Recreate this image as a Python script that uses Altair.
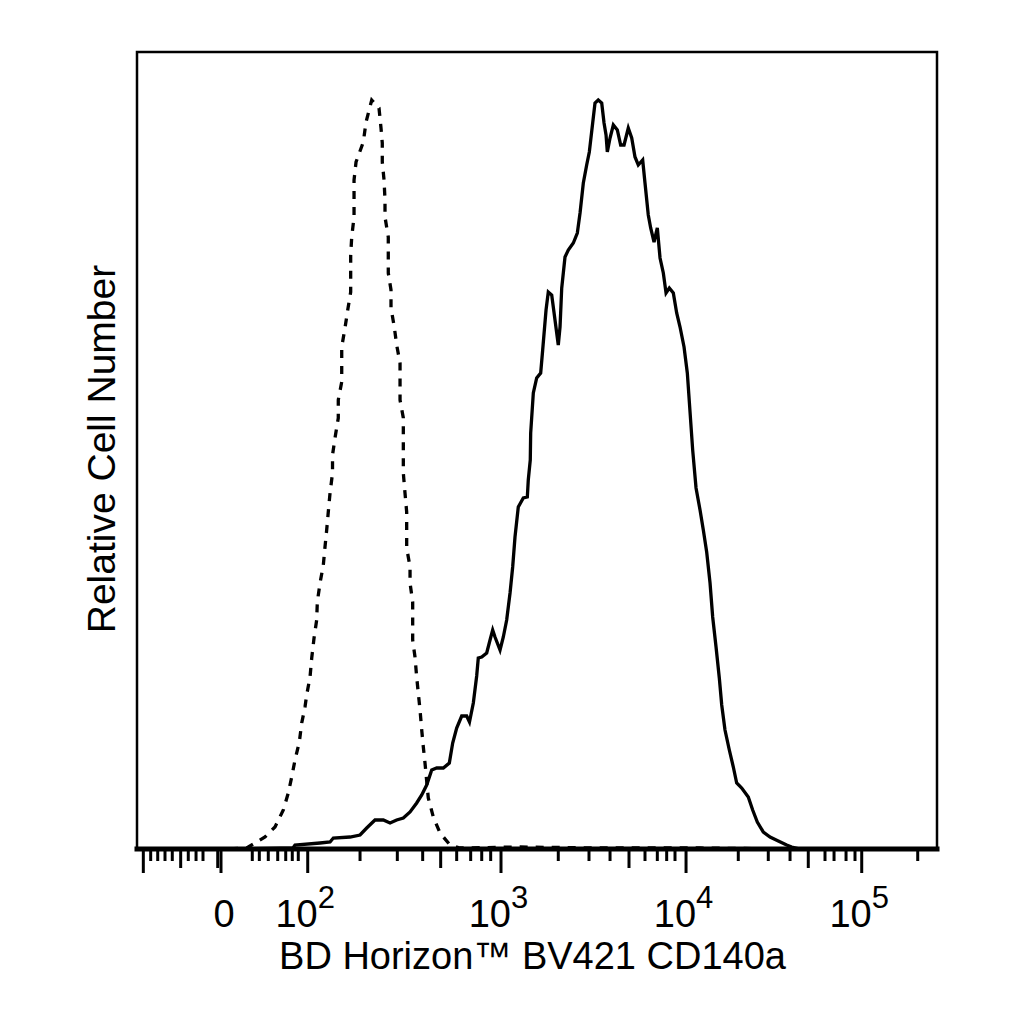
"""Flow cytometry overlay: BV421 CD140a vs isotype control."""
import altair as alt
import pandas as pd

# isotype control (dashed), x in display channels 0-1000, y in cell counts
iso_ch = [116.3, 137.1, 147.5, 160.0, 172.5, 182.9, 189.1, 193.4, 197.5, 202.9,
          205.9, 210.0, 212.1, 216.3, 218.4, 221.3, 224.6, 225.4, 228.8, 232.9,
          235.0, 237.1, 239.1, 241.3, 244.4, 244.4, 247.5, 251.6, 251.6, 255.9,
          255.9, 255.9, 260.0, 263.4, 267.1, 267.1, 267.1, 268.4, 271.3, 271.3,
          271.3, 273.8, 282.9, 286.3, 293.4, 302.5, 305.0, 306.6, 306.6, 308.8,
          310.0, 310.0, 314.1, 314.1, 314.1, 317.5, 317.5, 321.6, 324.6, 328.8,
          328.8, 328.8, 332.9, 332.9, 332.9, 332.9, 335.0, 337.1, 337.1, 337.1,
          341.3, 341.3, 344.6, 344.6, 344.6, 347.5, 349.6, 351.6, 353.8, 355.9,
          357.9, 360.0, 364.1, 370.4, 378.8, 391.3, 403.8, 478.8, 578.8, 703.8,
          816.3]
iso_n = [0, 1, 6, 12, 22, 39, 56, 72, 89, 107,
         126, 142, 154, 172, 191, 211, 229, 247, 266, 284,
         302, 319, 337, 356, 376, 394, 411, 431, 449, 467,
         486, 502, 521, 539, 557, 576, 594, 612, 632, 649,
         669, 687, 707, 727, 749, 741, 721, 706, 687, 669,
         649, 632, 612, 594, 576, 559, 541, 522, 504, 486,
         467, 449, 431, 411, 392, 376, 356, 337, 319, 301,
         282, 266, 247, 229, 209, 192, 172, 156, 139, 119,
         102, 86, 51, 32, 16, 4, 1, 2, 1, 1,
         0]

# BV421 CD140a stained (solid)
cd_ch = [128.8, 195.0, 197.5, 228.8, 241.3, 245.4, 266.3, 278.8, 287.1, 297.5,
         307.9, 316.3, 324.6, 332.9, 341.3, 349.6, 355.9, 362.1, 368.4, 374.6,
         382.9, 390.4, 394.6, 399.6, 405.9, 412.1, 415.6, 420.4, 424.6, 426.6,
         430.9, 437.1, 441.3, 444.6, 447.5, 453.8, 457.9, 462.1, 466.3, 469.6,
         472.5, 476.6, 482.9, 487.9, 489.1, 491.6, 492.1, 495.4, 499.6, 504.6,
         507.1, 511.3, 514.1, 518.4, 522.5, 526.6, 528.8, 530.9, 535.0, 539.1,
         545.4, 550.4, 553.8, 557.9, 562.1, 565.4, 569.6, 572.5, 576.6, 580.9,
         583.8, 586.3, 587.9, 591.3, 595.4, 600.4, 604.6, 608.8, 614.1, 618.4,
         622.5, 626.6, 632.1, 635.0, 639.1, 642.1, 646.3, 650.4, 653.8, 657.9,
         661.3, 665.4, 670.4, 674.6, 678.8, 683.8, 687.9, 691.3, 694.6, 698.8,
         703.8, 707.9, 712.1, 716.3, 719.6, 723.8, 727.9, 730.9, 735.0, 740.4,
         745.4, 749.6, 755.9, 764.1, 769.6, 775.4, 782.9, 791.3, 801.6, 812.1,
         818.4, 828.8]
cd_n = [0, 1, 4, 6, 7, 11, 12, 14, 21, 29,
        29, 26, 29, 31, 37, 46, 54, 64, 79, 81,
        81, 86, 106, 121, 133, 133, 127, 146, 173, 191,
        192, 196, 209, 219, 212, 199, 212, 229, 256, 282,
        312, 342, 351, 352, 369, 389, 416, 456, 471, 476,
        499, 539, 557, 554, 529, 504, 522, 561, 592, 599,
        606, 616, 636, 666, 684, 697, 726, 746, 749, 746,
        726, 714, 697, 711, 724, 719, 704, 704, 721, 711,
        692, 684, 689, 666, 634, 621, 607, 621, 591, 576,
        556, 561, 556, 536, 522, 502, 476, 437, 399, 361,
        339, 319, 297, 266, 232, 202, 171, 144, 119, 99,
        82, 66, 61, 52, 39, 27, 17, 12, 8, 4,
        2, 0]

# biexponential axis ticks, in display channels
major_ticks = [7.9, 105.0, 213.4, 455.0, 686.3, 905.9]
medium_ticks = [54.6, 100.9, 379.6, 615.0, 839.1]
minor_ticks = [17.1, 25.9, 35.0, 44.1, 64.1, 73.8, 82.5, 144.1, 152.9, 164.1,
               175.9, 185.9, 194.1, 201.6, 278.8, 325.4, 357.1, 399.6, 417.1,
               430.9, 442.1, 526.6, 565.0, 591.3, 635.0, 650.4, 662.1, 672.5,
               751.6, 789.1, 816.3, 860.0, 871.3, 886.3, 897.5, 975.9]
decade_pos = [213.4, 455.0, 686.3, 905.9]
decade_exp = ["2", "3", "4", "5"]
zero_pos = [105.0]

H = 797
FONT = "Liberation Sans"

x_scale = alt.Scale(domain=[0, 1000], nice=False, zero=False)
y_scale = alt.Scale(domain=[0, H], nice=False, zero=True)

iso = pd.DataFrame({"ch": iso_ch, "n": iso_n, "i": range(len(iso_ch))})
cd = pd.DataFrame({"ch": cd_ch, "n": cd_n, "i": range(len(cd_ch))})

x_axis = alt.Axis(
    labels=False, ticks=False, grid=False, domain=False,
    title="BD Horizon™ BV421 CD140a", titleFont=FONT, titleFontSize=38,
    titleFontWeight="normal", titleColor="black",
    titleY=119, titleX=395, titleBaseline="alphabetic",
)
y_axis = alt.Axis(
    labels=False, ticks=False, grid=False, domain=False,
    title="Relative Cell Number", titleFont=FONT, titleFontSize=39,
    titleFontWeight="normal", titleColor="black",
    titleX=-23, titleY=H / 2 - 2, titleBaseline="alphabetic", titleAngle=270,
)

X = alt.X("ch:Q", scale=x_scale, axis=x_axis)
Y = alt.Y("n:Q", scale=y_scale, axis=y_axis)

solid = alt.Chart(cd).mark_line(color="black", strokeWidth=3.3).encode(
    x=X, y=Y, order="i:Q",
)
dashed = alt.Chart(iso).mark_line(
    color="black", strokeWidth=3.3, strokeDash=[8, 8]
).encode(x=X, y=Y, order="i:Q")

# thick baseline along the bottom of the frame
baseline = alt.Chart(pd.DataFrame({"ch": [0]})).mark_rule(
    color="black", strokeWidth=5, strokeCap="square"
).encode(x=alt.value(0), x2=alt.value(800), y=alt.value(H))


def tick_layer(values, length):
    return alt.Chart(pd.DataFrame({"ch": values})).mark_rule(
        color="black", strokeWidth=3
    ).encode(x=X, y=alt.value(H), y2=alt.value(H + length))


labels_df = pd.DataFrame({"ch": decade_pos, "base": ["10"] * 4, "exp": decade_exp})
base_text = alt.Chart(labels_df).mark_text(
    font=FONT, fontSize=38, align="right", baseline="alphabetic", dx=10, color="black"
).encode(x=X, y=alt.value(H + 78), text="base:N")
exp_text = alt.Chart(labels_df).mark_text(
    font=FONT, fontSize=31, align="left", baseline="alphabetic", dx=10, color="black"
).encode(x=X, y=alt.value(H + 59), text="exp:N")
zero_text = alt.Chart(pd.DataFrame({"ch": zero_pos, "t": ["0"]})).mark_text(
    font=FONT, fontSize=38, align="center", baseline="alphabetic", dx=3, color="black"
).encode(x=X, y=alt.value(H + 78), text="t:N")

chart = (
    alt.layer(
        solid, dashed, baseline,
        tick_layer(minor_ticks, 12),
        tick_layer(medium_ticks, 19),
        tick_layer(major_ticks, 24),
        base_text, exp_text, zero_text,
    )
    .properties(
        width=800, height=H,
        autosize=alt.AutoSizeParams(type="none"),
        padding={"left": 129, "top": 44, "right": 60, "bottom": 150},
        background="white",
    )
    .configure_view(stroke="black", strokeWidth=2.5)
)

chart.save("out.html", embed_options={"renderer": "svg", "actions": False})
